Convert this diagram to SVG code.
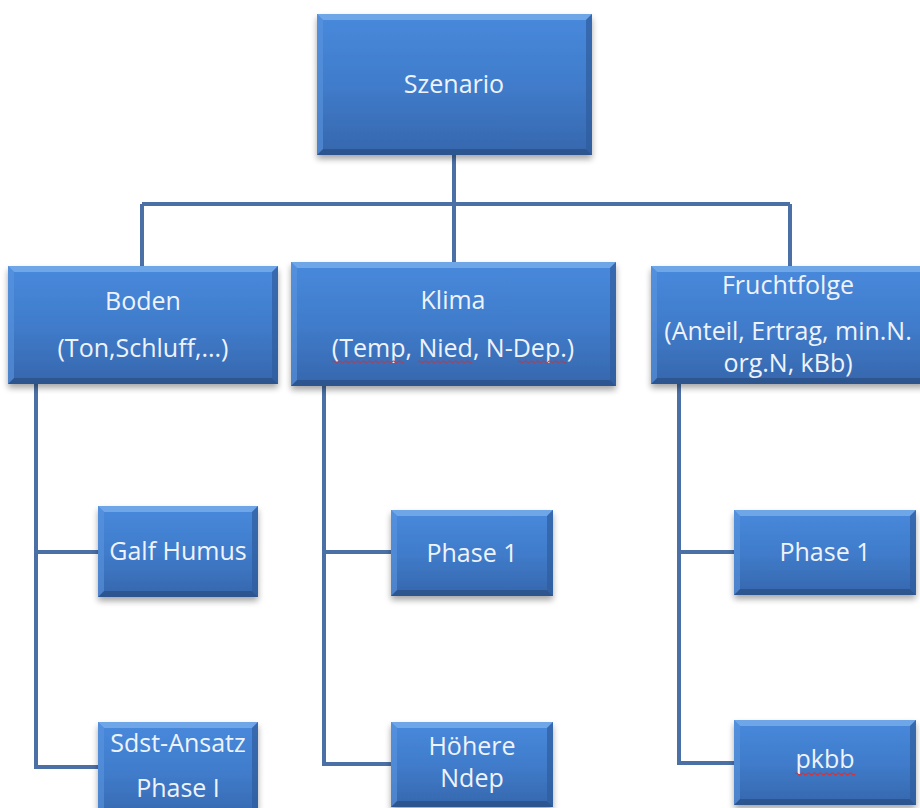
<svg xmlns="http://www.w3.org/2000/svg" width="920" height="808" viewBox="0 0 920 808">
<defs>
<linearGradient id="g" x1="0" y1="0" x2="0" y2="1">
<stop offset="0" stop-color="#4889dc"/>
<stop offset="0.5" stop-color="#407ccb"/>
<stop offset="1" stop-color="#3667ad"/>
</linearGradient>
<filter id="sh" x="-10%" y="-10%" width="120%" height="130%">
<feGaussianBlur in="SourceAlpha" stdDeviation="3"/>
<feOffset dx="0" dy="4" result="b"/>
<feComponentTransfer><feFuncA type="linear" slope="0.35"/></feComponentTransfer>
<feMerge><feMergeNode/><feMergeNode in="SourceGraphic"/></feMerge>
</filter>
</defs>
<style>
.box{fill:url(#g);filter:url(#sh)}
.bt{fill:#7bb0ec;opacity:0.75}
.bb{fill:#2a5087;opacity:0.8}
.bl{fill:#5a95de;opacity:0.6}
.br{fill:#2f5c9c;opacity:0.7}
.t{font-family:"Open Sans","Liberation Sans",sans-serif;font-size:25px;fill:#eef3fb;text-anchor:middle}
.c{fill:none;stroke:#4a70a6;stroke-width:4}
.sq{fill:none;stroke:#d0343a;stroke-width:1.2}
</style>
<g id="connectors">
<path class="c" d="M454 155 V204 M142 204 H790 M142 204 V266 M454 204 V262 M790 204 V266"/>
<path class="c" d="M36 384 V767 H98 M36 552 H98"/>
<path class="c" d="M324 386 V764 H391 M324 552 H391"/>
<path class="c" d="M679 384 V763 H734 M679 552 H734"/>
</g>
<g id="szenario">
<rect class="box" x="317" y="14" width="275" height="141"/>
<polygon class="bt" points="317,14 592,14 586,20 323,20"/>
<polygon class="bb" points="317,155 592,155 586,149 323,149"/>
<polygon class="bl" points="317,14 323,20 323,149 317,155"/>
<polygon class="br" points="592,14 586,20 586,149 592,155"/>
<text class="t" x="454" y="93">Szenario</text>
</g>
<g id="boden">
<rect class="box" x="8" y="266" width="270" height="118"/>
<polygon class="bt" points="8,266 278,266 272,272 14,272"/>
<polygon class="bb" points="8,384 278,384 272,378 14,378"/>
<polygon class="bl" points="8,266 14,272 14,378 8,384"/>
<polygon class="br" points="278,266 272,272 272,378 278,384"/>
<text class="t" x="143" y="310">Boden</text>
<text class="t" x="143" y="357">(Ton,Schluff,...)</text>
</g>
<g id="klima">
<rect class="box" x="291" y="262" width="325" height="124"/>
<polygon class="bt" points="291,262 616,262 610,268 297,268"/>
<polygon class="bb" points="291,386 616,386 610,380 297,380"/>
<polygon class="bl" points="291,262 297,268 297,380 291,386"/>
<polygon class="br" points="616,262 610,268 610,380 616,386"/>
<text class="t" x="453" y="309">Klima</text>
<text class="t" x="453" y="357">(Temp, Nied, N-Dep.)</text>
<path class="sq" d="M332 362 q1.5 -2 3 0 t3 0 t3 0 t3 0 t3 0 t3 0 t3 0 t3 0 t3 0 t3 0 t3 0 t3 0 t3 0 t3 0 t3 0 t3 0 t3 0 t3 0 t3 0 t3 0 t3 0 t3 0 t3 0 t3 0"/>
<path class="sq" d="M418 362 q1.5 -2 3 0 t3 0 t3 0 t3 0 t3 0 t3 0 t3 0 t3 0 t3 0 t3 0 t3 0 t3 0 t3 0 t3 0 t3 0 t3 0 t3 0 t3 0"/>
<path class="sq" d="M518 362 q1.5 -2 3 0 t3 0 t3 0 t3 0 t3 0 t3 0 t3 0 t3 0 t3 0 t3 0 t3 0 t3 0 t3 0 t3 0 t3 0 t3 0"/>
</g>
<g id="fruchtfolge">
<rect class="box" x="651" y="266" width="275" height="118"/>
<polygon class="bt" points="651,266 926,266 920,272 657,272"/>
<polygon class="bb" points="651,384 926,384 920,378 657,378"/>
<polygon class="bl" points="651,266 657,272 657,378 651,384"/>
<text class="t" x="788" y="294">Fruchtfolge</text>
<text class="t" x="788" y="340">(Anteil, Ertrag, min.N.</text>
<text class="t" x="788" y="372">org.N, kBb)</text>
</g>
<g id="galf">
<rect class="box" x="98" y="506" width="160" height="91"/>
<polygon class="bt" points="98,506 258,506 252,512 104,512"/>
<polygon class="bb" points="98,597 258,597 252,591 104,591"/>
<polygon class="bl" points="98,506 104,512 104,591 98,597"/>
<polygon class="br" points="258,506 252,512 252,591 258,597"/>
<text class="t" x="178" y="560">Galf Humus</text>
</g>
<g id="sdst">
<rect class="box" x="98" y="722" width="160" height="100"/>
<polygon class="bt" points="98,722 258,722 252,728 104,728"/>
<polygon class="bl" points="98,722 104,728 104,822 98,822"/>
<polygon class="br" points="258,722 252,728 252,822 258,822"/>
<text class="t" x="178" y="752">Sdst-Ansatz</text>
<text class="t" x="178" y="797">Phase I</text>
</g>
<g id="klima-phase1">
<rect class="box" x="391" y="510" width="162" height="86"/>
<polygon class="bt" points="391,510 553,510 547,516 397,516"/>
<polygon class="bb" points="391,596 553,596 547,590 397,590"/>
<polygon class="bl" points="391,510 397,516 397,590 391,596"/>
<polygon class="br" points="553,510 547,516 547,590 553,596"/>
<text class="t" x="472" y="562">Phase 1</text>
</g>
<g id="hoehere">
<rect class="box" x="391" y="722" width="162" height="85"/>
<polygon class="bt" points="391,722 553,722 547,728 397,728"/>
<polygon class="bb" points="391,807 553,807 547,801 397,801"/>
<polygon class="bl" points="391,722 397,728 397,801 391,807"/>
<polygon class="br" points="553,722 547,728 547,801 553,807"/>
<text class="t" x="472" y="755">Höhere</text>
<text class="t" x="472" y="787">Ndep</text>
</g>
<g id="frucht-phase1">
<rect class="box" x="734" y="510" width="182" height="85"/>
<polygon class="bt" points="734,510 916,510 910,516 740,516"/>
<polygon class="bb" points="734,595 916,595 910,589 740,589"/>
<polygon class="bl" points="734,510 740,516 740,589 734,595"/>
<polygon class="br" points="916,510 910,516 910,589 916,595"/>
<text class="t" x="825" y="561">Phase 1</text>
</g>
<g id="pkbb">
<rect class="box" x="734" y="720" width="182" height="85"/>
<polygon class="bt" points="734,720 916,720 910,726 740,726"/>
<polygon class="bb" points="734,805 916,805 910,799 740,799"/>
<polygon class="bl" points="734,720 740,726 740,799 734,805"/>
<polygon class="br" points="916,720 910,726 910,799 916,805"/>
<text class="t" x="825" y="768">pkbb</text>
<path class="sq" d="M795 774 q1.5 -2 3 0 t3 0 t3 0 t3 0 t3 0 t3 0 t3 0 t3 0 t3 0 t3 0 t3 0 t3 0 t3 0 t3 0 t3 0 t3 0 t3 0 t3 0 t3 0 t3 0"/>
</g>
</svg>
